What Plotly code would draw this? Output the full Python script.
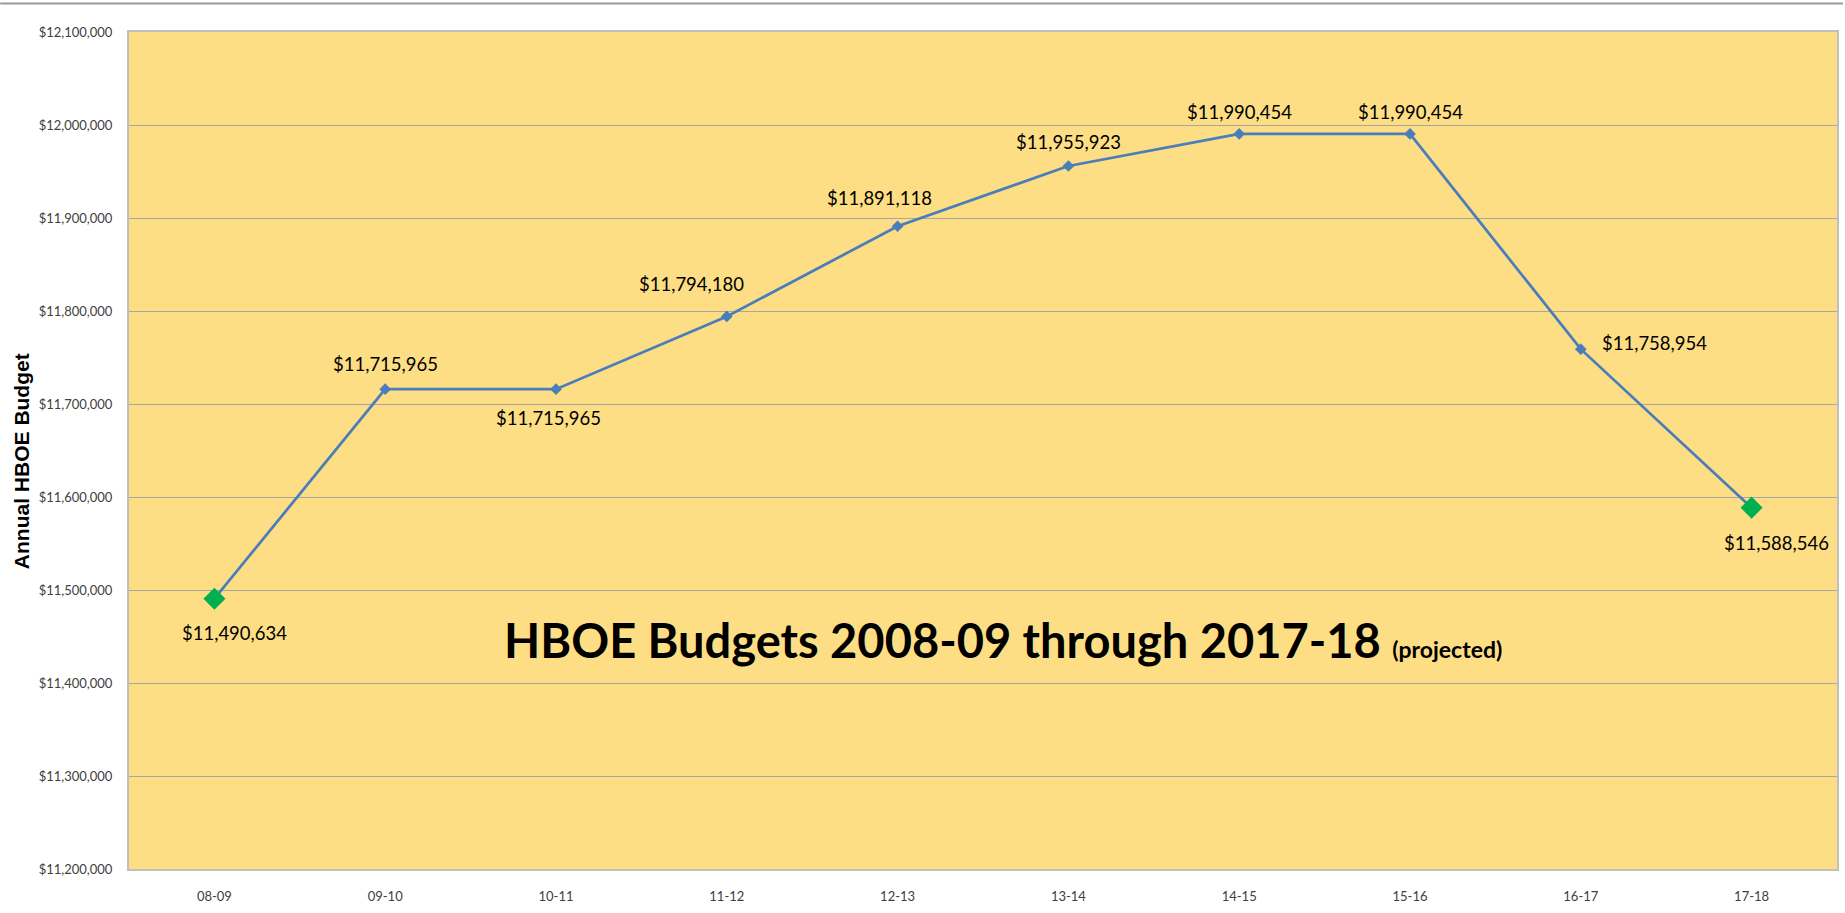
import plotly.graph_objects as go

categories = ["08-09", "09-10", "10-11", "11-12", "12-13", "13-14", "14-15", "15-16", "16-17", "17-18"]
budgets = [11490634, 11715965, 11715965, 11794180, 11891118, 11955923, 11990454, 11990454, 11758954, 11588546]
label_text = ["$11,490,634", "$11,715,965", "$11,715,965", "$11,794,180", "$11,891,118",
              "$11,955,923", "$11,990,454", "$11,990,454", "$11,758,954", "$11,588,546"]
y_ticks = [11200000 + 100000 * i for i in range(10)]
y_tick_text = ["$" + format(v, ",") for v in y_ticks]

# label offsets (pixels) relative to each point
label_dx = [20, 0, -8, -35, -18, 0, 0, 0, 74, 25]
label_dy = [-34, 25, -29, 32, 28, 24, 22, 22, 6, -35]

W, H = 1845, 913
L, R, T, B = 129, 6, 32, 44
plot_h = H - T - B
plot_w = W - L - R

line_color = "#4A7EBB"
green = "#00B050"

marker_sizes = [17] + [9] * 8 + [17]
marker_colors = [green] + [line_color] * 8 + [green]

fig = go.Figure()
fig.add_trace(go.Scatter(
    x=categories, y=budgets, mode="lines+markers",
    line=dict(color=line_color, width=2.75),
    marker=dict(symbol="diamond", size=marker_sizes, color=marker_colors, opacity=1, line=dict(width=0)),
    hoverinfo="x+y", showlegend=False,
))

for c, v, t, dx, dy in zip(categories, budgets, label_text, label_dx, label_dy):
    fig.add_annotation(x=c, y=v, text=t, showarrow=False, xshift=dx, yshift=dy,
                       font=dict(family="Lato", size=18.5, color="#000000"))

fig.add_annotation(
    xref="paper", yref="paper", x=(1004.5 - L) / plot_w, y=(H - B - 640) / plot_h,
    text="<b>HBOE Budgets 2008-09 through 2017-18 <span style='font-size:23px'>(projected)</span></b>",
    showarrow=False, xanchor="center", yanchor="middle",
    font=dict(family="Lato", size=47, color="#000000"),
)

# y-axis title
fig.add_annotation(
    xref="paper", yref="paper", x=(21 - L) / plot_w, y=(H - B - 461) / plot_h,
    text="<b>Annual HBOE Budget</b>", textangle=-90, showarrow=False,
    xanchor="center", yanchor="middle",
    font=dict(family="Liberation Sans", size=21, color="#000000"),
)

# thin rule across the very top of the page
fig.add_shape(type="line", xref="paper", yref="paper",
              x0=-L / plot_w, x1=1 + R / plot_w,
              y0=1 + (T - 3.5) / plot_h, y1=1 + (T - 3.5) / plot_h,
              line=dict(color="#9A9A9A", width=2))

fig.update_layout(
    width=W, height=H,
    margin=dict(l=L, r=R, t=T, b=B, pad=0),
    paper_bgcolor="#FFFFFF",
    plot_bgcolor="#FDDE84",
    font=dict(family="Lato", color="#404040"),
    xaxis=dict(
        type="category", range=[-0.5, 9.5], showgrid=False,
        showline=True, linecolor="#BFBFBF", linewidth=2, mirror=True,
        ticks="", tickfont=dict(family="Lato", size=13, color="#404040"),
        ticklabelstandoff=14, zeroline=False,
    ),
    yaxis=dict(
        range=[11200000, 12100000], tickvals=y_ticks, ticktext=y_tick_text,
        showgrid=True, gridcolor="#A6A6A6", gridwidth=1,
        showline=True, linecolor="#BFBFBF", linewidth=2, mirror=True,
        ticks="", tickfont=dict(family="Lato", size=13, color="#404040"),
        ticklabelstandoff=12, zeroline=False,
    ),
)

fig.write_html("out.html")
